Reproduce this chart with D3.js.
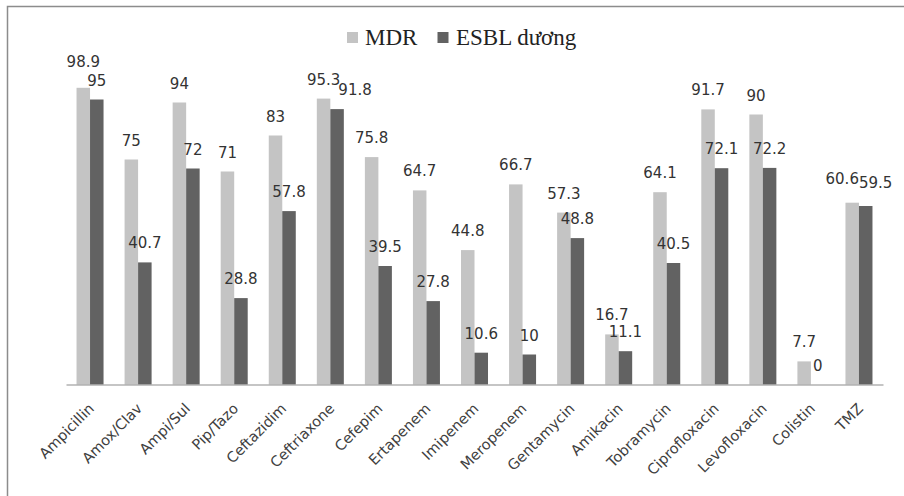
<!DOCTYPE html>
<html>
<head>
<meta charset="utf-8">
<script src="https://cdn.jsdelivr.net/npm/d3@7"></script>
<style>
  html, body { margin: 0; padding: 0; background: #ffffff; }
  svg { display: block; }
</style>
</head>
<body>
<svg id="chart" width="904" height="496"></svg>
<script>
// Antibiotic resistance rates (%)
const categories = ["Ampicillin", "Amox/Clav", "Ampi/Sul", "Pip/Tazo", "Ceftazidim", "Ceftriaxone",
  "Cefepim", "Ertapenem", "Imipenem", "Meropenem", "Gentamycin", "Amikacin", "Tobramycin",
  "Ciprofloxacin", "Levofloxacin", "Colistin", "TMZ"];
const seriesNames = ["MDR", "ESBL dương"];
const mdrValues = [98.9, 75, 94, 71, 83, 95.3, 75.8, 64.7, 44.8, 66.7, 57.3, 16.7, 64.1, 91.7, 90, 7.7, 60.6];
const esblValues = [95, 40.7, 72, 28.8, 57.8, 91.8, 39.5, 27.8, 10.6, 10, 48.8, 11.1, 40.5, 72.1, 72.2, 0, 59.5];
const yDomain = [0, 100];

const seriesColors = { "MDR": "#c4c4c4", "ESBL dương": "#626262" };

// Hand-placed label offsets where neighbouring labels would crowd each other
const labelShift = {
  "Ampicillin|MDR": [0, -7],
  "Ceftriaxone|ESBL dương": [18, 0],
  "TMZ|MDR": [-10, -5],
  "TMZ|ESBL dương": [10, -4]
};

const rows = categories.map((c, i) => ({
  category: c,
  values: [
    { series: seriesNames[0], value: mdrValues[i] },
    { series: seriesNames[1], value: esblValues[i] }
  ]
}));

const svg = d3.select("#chart");

// outer frame
svg.append("rect")
  .attr("x", 7.5).attr("y", 6.5)
  .attr("width", 920).attr("height", 520)
  .attr("fill", "none")
  .attr("stroke", "#8c8c8c")
  .attr("stroke-width", 1.5);

const plot = { left: 66, right: 883, top: 84.5, bottom: 384.5 };

const x0 = d3.scaleBand()
  .domain(categories)
  .range([plot.left, plot.right])
  .paddingInner(0.438)
  .paddingOuter(0.219);

const x1 = d3.scaleBand()
  .domain(seriesNames)
  .range([0, x0.bandwidth()]);

const y = d3.scaleLinear()
  .domain(yDomain)
  .range([plot.bottom, plot.top]);

// bars
const groups = svg.append("g")
  .selectAll("g")
  .data(rows)
  .join("g")
  .attr("transform", d => `translate(${x0(d.category)},0)`);

groups.selectAll("rect")
  .data(d => d.values)
  .join("rect")
  .attr("x", d => x1(d.series))
  .attr("y", d => y(d.value))
  .attr("width", x1.bandwidth())
  .attr("height", d => y(0) - y(d.value))
  .attr("fill", d => seriesColors[d.series]);

// value labels
const shiftOf = d => labelShift[d.category + "|" + d.series] || [0, 0];
groups.selectAll("text")
  .data(d => d.values.map(v => ({ ...v, category: d.category })))
  .join("text")
  .attr("x", d => x1(d.series) + x1.bandwidth() / 2 + shiftOf(d)[0])
  .attr("y", d => y(d.value) - 14 + shiftOf(d)[1])
  .attr("text-anchor", "middle")
  .attr("font-family", "'DejaVu Sans', Verdana, sans-serif")
  .attr("font-size", "15px")
  .attr("fill", "#333333")
  .text(d => d.value);

// category axis
const xAxis = svg.append("g")
  .attr("transform", `translate(0,${plot.bottom})`)
  .call(d3.axisBottom(x0).tickSize(0).tickSizeOuter(0));

xAxis.select(".domain")
  .attr("stroke", "#8c8c8c")
  .attr("stroke-width", 1.2);

xAxis.selectAll(".tick text")
  .attr("x", 0).attr("y", 0).attr("dy", 0)
  .attr("text-anchor", "end")
  .attr("transform", "translate(5,25) rotate(-45)")
  .attr("font-family", "'DejaVu Sans', Verdana, sans-serif")
  .attr("font-size", "14.5px")
  .attr("fill", "#404040");

// legend
const legend = svg.append("g");
const legendItems = [
  { name: seriesNames[0], sx: 347, tx: 365 },
  { name: seriesNames[1], sx: 437.5, tx: 456 }
];
legendItems.forEach(item => {
  legend.append("rect")
    .attr("x", item.sx).attr("y", 32)
    .attr("width", 11).attr("height", 11)
    .attr("fill", seriesColors[item.name]);
  legend.append("text")
    .attr("x", item.tx).attr("y", 45)
    .attr("font-family", "'Liberation Serif', 'Times New Roman', serif")
    .attr("font-size", "23px")
    .attr("fill", "#222222")
    .text(item.name);
});
</script>
</body>
</html>
